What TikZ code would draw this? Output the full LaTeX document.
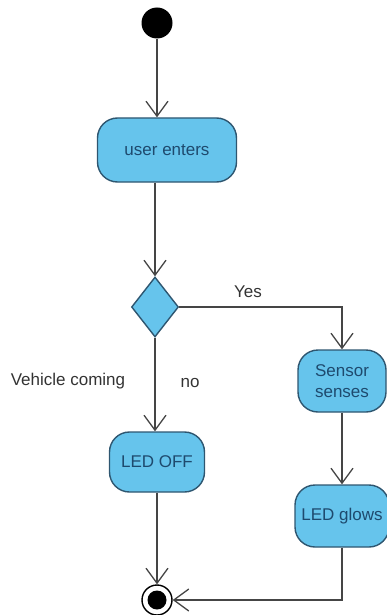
\documentclass[tikz,border=0pt]{standalone}
\usepackage{fontspec}
\setmainfont{Liberation Sans}
\usetikzlibrary{arrows.meta, shapes.geometric}
\usepackage{xcolor}
\definecolor{actfill}{HTML}{66C4EC}
\definecolor{actdraw}{HTML}{2E5670}
\definecolor{acttext}{HTML}{1E4A6E}
\definecolor{flowgray}{HTML}{454545}

\begin{document}
\begin{tikzpicture}[x=1pt, y=-1pt,
  activity/.style={draw=actdraw, fill=actfill, line width=1.4pt,
    rounded corners=20pt, text=acttext, align=center, inner sep=2pt,
    font=\fontsize{17}{21}\selectfont},
  flow/.style={draw=flowgray, line width=1.4pt,
    -{Straight Barb[length=15pt, width=22pt, line width=1.3pt]}},
  guard/.style={text=black!80, font=\fontsize{17}{19}\selectfont}]
\useasboundingbox (0,0) rectangle (387,615);

% nodes
\node[circle, fill=black, minimum size=31pt, inner sep=0] (start) at (157,23) {};
\node[activity, minimum width=139pt, minimum height=64pt] (enter) at (167,150) {user enters};
\node[diamond, draw=actdraw, fill=actfill, line width=1.4pt, inner sep=0,
      minimum width=47pt, minimum height=60pt] (check) at (155,307) {};
\node[activity, minimum width=88pt, minimum height=62pt] (sense) at (342,381) {Sensor\\senses};
\node[activity, minimum width=95pt, minimum height=60pt] (ledoff) at (157,462) {LED OFF};
\node[activity, minimum width=94pt, minimum height=62pt] (ledon) at (342,516) {LED glows};
\node[circle, draw=black, line width=1.4pt, fill=white, minimum size=30pt, inner sep=0] (stop) at (157,600) {};
\node[circle, fill=black, minimum size=19pt, inner sep=0] at (stop) {};

% guard labels
\node[guard] (yes) at (248,292) {Yes};
\node[guard] (vehicle) at (68,381) {Vehicle coming};
\node[guard] (no) at (190,383) {no};

% flows
\draw[flow] (start) -- (start |- enter.north);
\draw[flow] (check.north |- enter.south) -- (check.north);
\draw[flow] (check.east) -| (sense.north);
\draw[flow] (check.south) -- (check.south |- ledoff.north);
\draw[flow] (sense.south) -- (ledon.north);
\draw[flow] (ledoff.south) -- (stop.north);
\draw[flow] (ledon.south) |- (stop.east);
\end{tikzpicture}
\end{document}
